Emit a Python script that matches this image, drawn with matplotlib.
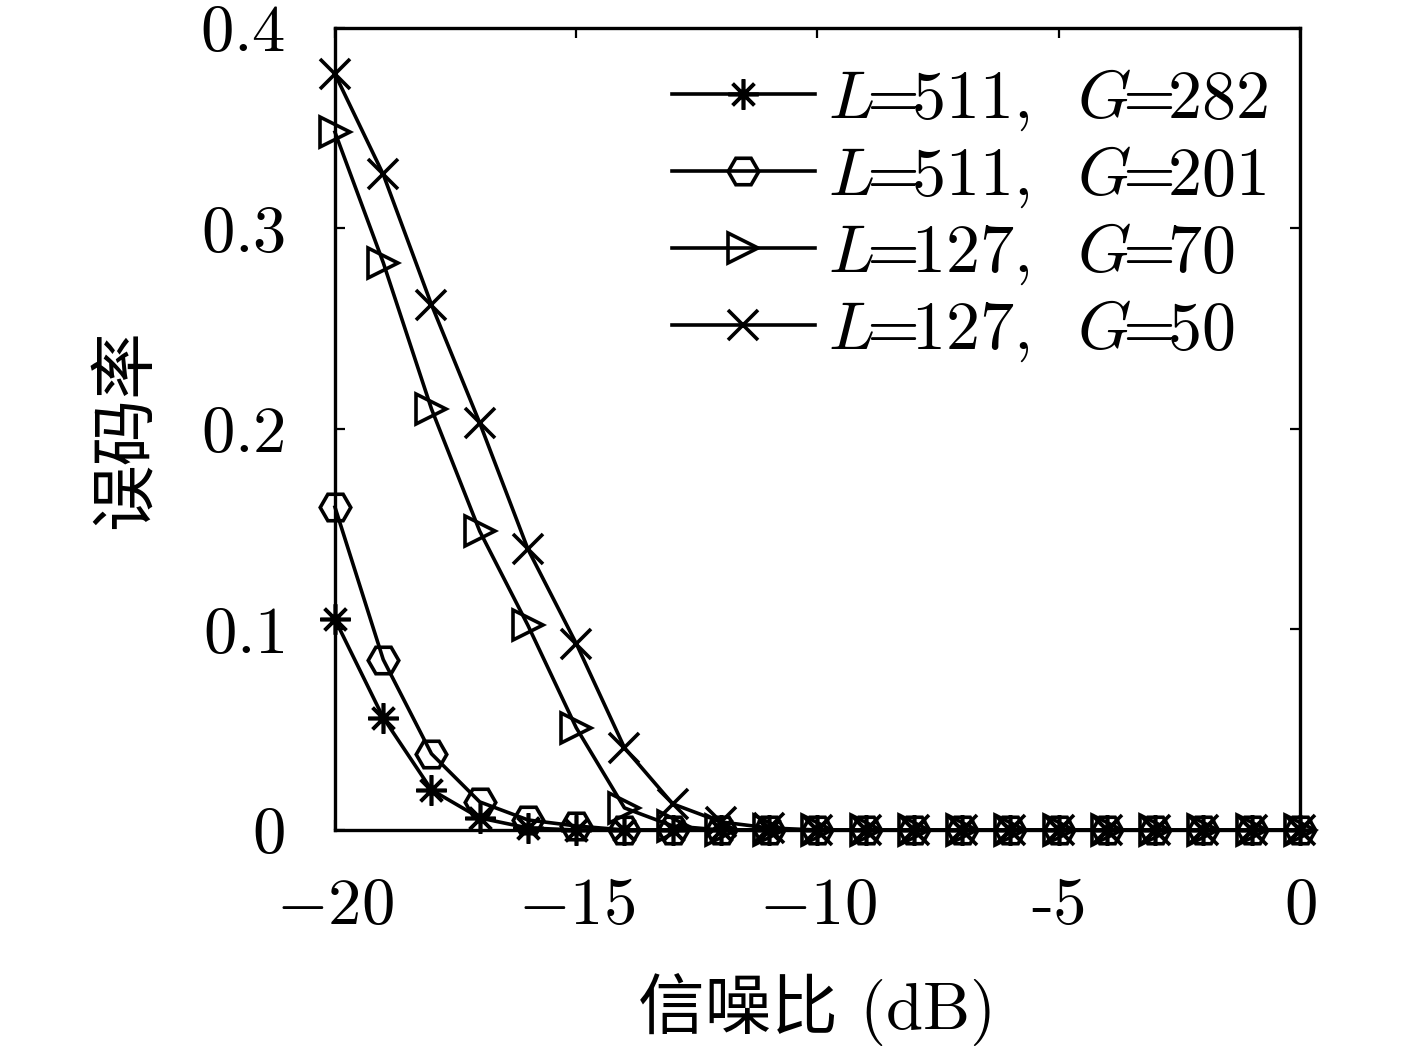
import numpy as np
import matplotlib
matplotlib.use("Agg")
import matplotlib.pyplot as plt

plt.rcParams['mathtext.fontset'] = 'cm'
plt.rcParams['font.family'] = ['cmr10', 'Noto Sans CJK SC', 'DejaVu Sans']
plt.rcParams['axes.unicode_minus'] = False

# SNR (dB) and bit error rate
snr = np.arange(-20, 1, 1)
ber_511_282 = [0.105, 0.056, 0.020, 0.006, 0.001, 0, 0, 0, 0, 0, 0,
               0, 0, 0, 0, 0, 0, 0, 0, 0, 0]
ber_511_201 = [0.161, 0.085, 0.038, 0.014, 0.005, 0.002, 0, 0, 0, 0, 0,
               0, 0, 0, 0, 0, 0, 0, 0, 0, 0]
ber_127_70 = [0.348, 0.283, 0.210, 0.149, 0.102, 0.051, 0.011, 0.002, 0, 0, 0,
              0, 0, 0, 0, 0, 0, 0, 0, 0, 0]
ber_127_50 = [0.377, 0.327, 0.262, 0.203, 0.140, 0.093, 0.041, 0.013, 0.004, 0.001, 0,
              0, 0, 0, 0, 0, 0, 0, 0, 0, 0]

labels = [r'$L\!\!=\!\!511,\;\;G\!\!=\!\!282$', r'$L\!\!=\!\!511,\;\;G\!\!=\!\!201$',
          r'$L\!\!=\!\!127,\;\;G\!\!=\!\!70$', r'$L\!\!=\!\!127,\;\;G\!\!=\!\!50$']
xticks = [-20, -15, -10, -5, 0]
xticklabels = [r'$-20$', r'$-15$', r'$-10$', '-5', r'$0$']
yticks = [0, 0.1, 0.2, 0.3, 0.4]
yticklabels = [r'$0$', r'$0.1$', r'$0.2$', r'$0.3$', r'$0.4$']

fig = plt.figure(figsize=(14.17, 10.51), dpi=100)
ax = fig.add_axes([0.2364, 0.2103, 0.681, 0.7631])

style = dict(color='black', lw=2.6, markersize=22, markeredgewidth=2.6,
             markerfacecolor='none', clip_on=False)
ax.plot(snr, ber_511_282, marker=(8, 2, 0), label=labels[0], **style)
ax.plot(snr, ber_511_201, marker='H', label=labels[1], **style)
ax.plot(snr, ber_127_70, marker='>', label=labels[2], **style)
ax.plot(snr, ber_127_50, marker='x', label=labels[3], **style)

ax.set_xlim(-20, 0)
ax.set_ylim(0, 0.4)
ax.set_xticks(xticks)
ax.set_xticklabels(xticklabels)
ax.set_yticks(yticks)
ax.set_yticklabels(yticklabels)
ax.tick_params(direction='in', length=7, width=1.6, top=True, right=True,
               labelsize=48)
ax.tick_params(axis='x', pad=34)
ax.tick_params(axis='y', pad=36)
for s in ax.spines.values():
    s.set_linewidth(2.4)

ax.set_xlabel('信噪比 (dB)', fontsize=48, labelpad=26)
ax.set_ylabel('误码率', fontsize=48, labelpad=30)

ax.legend(loc='upper right', bbox_to_anchor=(0.996, 0.985), frameon=False,
          fontsize=49, handlelength=2.1, handletextpad=0.2, labelspacing=0.17,
          borderaxespad=0.0)

fig.savefig('out.png', dpi=100, facecolor='white')
